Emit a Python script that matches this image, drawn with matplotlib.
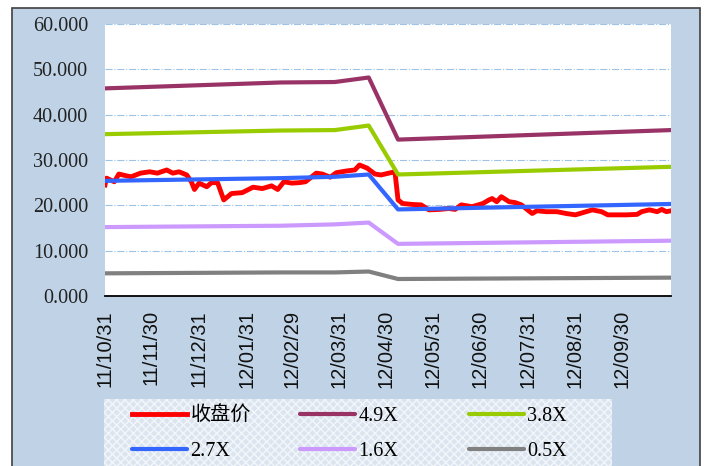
import matplotlib
matplotlib.use('Agg')
import matplotlib.pyplot as plt
from matplotlib.patches import Rectangle
import pandas as pd

# closing price
price_dates = ["2011-10-31", "2011-11-01", "2011-11-06", "2011-11-09", "2011-11-14", "2011-11-17",
               "2011-11-23", "2011-11-29", "2011-12-04", "2011-12-10", "2011-12-14", "2011-12-18",
               "2011-12-23", "2011-12-26", "2011-12-28", "2011-12-31", "2012-01-05", "2012-01-08",
               "2012-01-12", "2012-01-16", "2012-01-21", "2012-01-28", "2012-02-04", "2012-02-10",
               "2012-02-16", "2012-02-20", "2012-02-24", "2012-02-29", "2012-03-05", "2012-03-09",
               "2012-03-16", "2012-03-20", "2012-03-25", "2012-03-29", "2012-04-05", "2012-04-10",
               "2012-04-13", "2012-04-18", "2012-04-23", "2012-04-27", "2012-05-02", "2012-05-06",
               "2012-05-08", "2012-05-11", "2012-05-17", "2012-05-23", "2012-05-28", "2012-06-04",
               "2012-06-10", "2012-06-14", "2012-06-18", "2012-06-25", "2012-07-02", "2012-07-06",
               "2012-07-08", "2012-07-11", "2012-07-14", "2012-07-19", "2012-07-23", "2012-07-27",
               "2012-07-31", "2012-08-03", "2012-08-06", "2012-08-12", "2012-08-19", "2012-08-25",
               "2012-08-31", "2012-09-07", "2012-09-11", "2012-09-17", "2012-09-21", "2012-09-27",
               "2012-10-03", "2012-10-10", "2012-10-13", "2012-10-18", "2012-10-23", "2012-10-26",
               "2012-10-29", "2012-11-01"]
price_values = [24.5, 26.0, 25.2, 26.9, 26.5, 26.3, 27.1, 27.4, 27.1, 27.8, 27.1, 27.4,
                26.7, 25.2, 23.5, 24.9, 24.1, 25.0, 25.0, 21.2, 22.6, 22.8, 24.0, 23.7,
                24.3, 23.5, 25.2, 24.9, 25.0, 25.2, 27.1, 26.9, 26.2, 27.2, 27.6, 27.8,
                28.9, 28.2, 26.9, 26.7, 27.1, 27.4, 21.2, 20.4, 20.2, 20.1, 19.0, 19.1,
                19.3, 19.1, 20.1, 19.7, 20.4, 21.2, 21.5, 20.8, 21.9, 20.8, 20.6, 20.1,
                19.0, 18.2, 18.8, 18.6, 18.6, 18.2, 17.9, 18.6, 19.0, 18.6, 17.9, 17.9,
                17.9, 18.0, 18.6, 19.0, 18.6, 19.1, 18.6, 18.8]

# valuation bands (breakpoints only, straight lines between)
band_dates = ["2011-10-31", "2012-02-22", "2012-03-28", "2012-04-19", "2012-05-08", "2012-11-01"]
band_49 = [45.8, 47.1, 47.2, 48.2, 34.5, 36.6]
band_38 = [35.7, 36.5, 36.6, 37.6, 26.8, 28.5]
band_27 = [25.4, 26.0, 26.3, 26.8, 19.1, 20.3]
band_16 = [15.2, 15.5, 15.8, 16.2, 11.5, 12.2]
band_05 = [5.0, 5.2, 5.2, 5.4, 3.75, 4.05]

tick_dates = ["2011-10-31", "2011-11-30", "2011-12-31", "2012-01-31", "2012-02-29", "2012-03-31",
              "2012-04-30", "2012-05-31", "2012-06-30", "2012-07-31", "2012-08-31", "2012-09-30"]
tick_labels = ["11/10/31", "11/11/30", "11/12/31", "12/01/31", "12/02/29", "12/03/31",
               "12/04/30", "12/05/31", "12/06/30", "12/07/31", "12/08/31", "12/09/30"]
y_ticks = [0, 10, 20, 30, 40, 50, 60]

names = ['收盘价', '4.9X', '3.8X', '2.7X', '1.6X', '0.5X']
colors = ['#FF0000', '#993366', '#99CC00', '#3366FF', '#CC99FF', '#808080']

W, H = 705, 466
fig = plt.figure(figsize=(W / 100, H / 100), dpi=100)
fig.patch.set_facecolor('white')

# outer chart frame and legend box (both run past the bottom edge, as in the original)
fig.add_artist(Rectangle((12 / W, -0.05), 688 / W, 1.05 - 8 / H, transform=fig.transFigure,
                         facecolor='#C0D3E6', edgecolor='#404040', lw=1.2, zorder=-2))
fig.add_artist(Rectangle((104 / W, -0.05), 508 / W, 0.05 + 1 - 399 / H, transform=fig.transFigure,
                         facecolor='#DCE5EF', edgecolor='#F2F6FA', hatch='xxxx', lw=0, zorder=-1))

ax = fig.add_axes([105 / W, 1 - 296 / H, 566 / W, 272 / H])
ax.set_facecolor('white')

pdates = pd.to_datetime(price_dates)
bdates = pd.to_datetime(band_dates)
lines = []
lines += ax.plot(pdates, price_values, color=colors[0], lw=3.5, solid_joinstyle='round')
for vals, col in zip([band_49, band_38, band_27, band_16, band_05], colors[1:]):
    lines += ax.plot(bdates, vals, color=col, lw=3.0, solid_capstyle='round')

ax.set_xlim(pdates[0], pdates[-1])
ax.set_ylim(0, 60)
ax.set_yticks(y_ticks)
ax.set_yticklabels(['{:.3f}'.format(v) for v in y_ticks], fontfamily='Liberation Serif',
                   fontsize=14.5, color='#222222')
ax.set_xticks(pd.to_datetime(tick_dates))
ax.set_xticklabels(tick_labels, rotation=90, fontfamily='Liberation Sans', fontsize=14.5, color='#111111')
ax.tick_params(axis='both', length=0)
ax.tick_params(axis='y', pad=12)
ax.tick_params(axis='x', pad=10)

ax.yaxis.grid(True, linestyle='-.', color='#9DC3E6', lw=0.8)
ax.set_axisbelow(True)
for s in ['top', 'left', 'right']:
    ax.spines[s].set_visible(False)
ax.spines['bottom'].set_color('black')
ax.spines['bottom'].set_linewidth(1.3)

# legend: one entry per slot, 3 columns x 2 rows
col_x = [132, 300, 469]
row_y = [416, 451]
for i in range(6):
    fig.legend(handles=[lines[i]], labels=[names[i]], loc='center left',
               bbox_to_anchor=(col_x[i % 3] / W, 1 - row_y[i // 3] / H),
               frameon=False, borderpad=0, borderaxespad=0, handlelength=2.75, handletextpad=0.15,
               prop={'family': ['Liberation Serif', 'Noto Sans CJK SC'], 'size': 14.5})

fig.savefig('out.png', dpi=100)
